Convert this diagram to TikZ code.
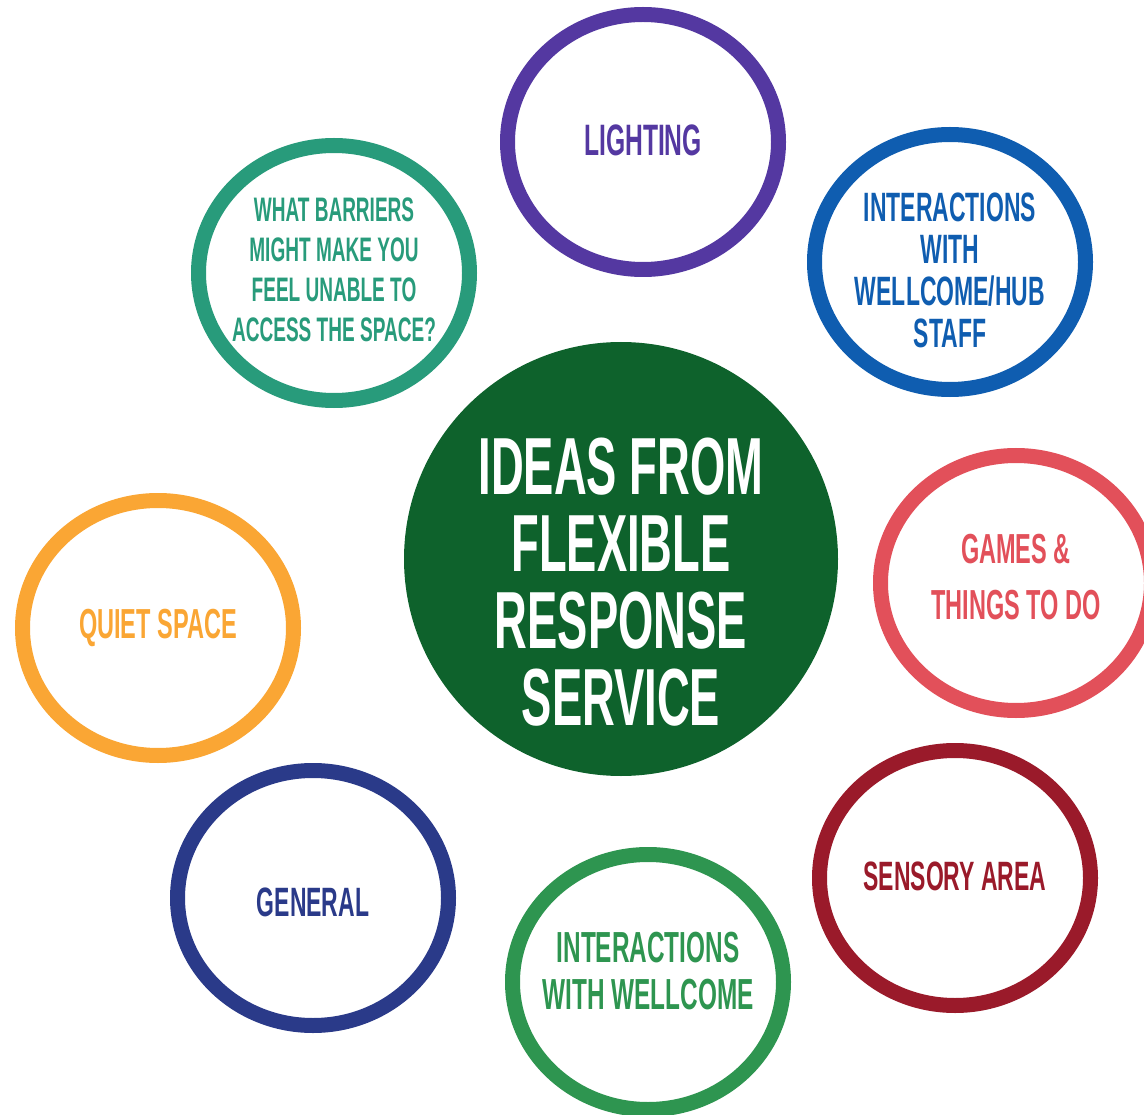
\documentclass[tikz,border=0pt]{standalone}
\usepackage{fontspec}
\setmainfont{Liberation Sans}[FakeStretch=0.56]
\usetikzlibrary{shapes.geometric}

\definecolor{hubgreen}{HTML}{0E622C}
\definecolor{lightpurple}{HTML}{5438A1}
\definecolor{staffblue}{HTML}{0F5DB0}
\definecolor{gamesred}{HTML}{E2505A}
\definecolor{sensoryred}{HTML}{9A1A2A}
\definecolor{wellgreen}{HTML}{2E9550}
\definecolor{generalnavy}{HTML}{2A3A89}
\definecolor{quietorange}{HTML}{FAA634}
\definecolor{barrierteal}{HTML}{289B7B}

\newcommand{\ringfont}[2]{\bfseries\fontsize{#1}{#2}\selectfont}

\tikzset{
  ring/.style={ellipse, draw=#1, line width=15pt,
    minimum width=271pt, minimum height=255pt, inner sep=0pt},
  ringtext/.style={text=#1, align=center, inner sep=0pt},
  hub/.style={circle, fill=hubgreen, minimum size=434pt, inner sep=0pt}
}

\begin{document}
\begin{tikzpicture}[x=1pt,y=-1pt]
        \useasboundingbox (0,0) rectangle (1144,1115);

        \node[hub, label={[ringtext=white, font=\ringfont{81}{77}, yshift=-23pt]center:IDEAS FROM\\FLEXIBLE\\RESPONSE\\SERVICE}] (0) at (621,559) {};

        \node[ring=lightpurple, label={[ringtext=lightpurple, font=\ringfont{44}{44}, yshift=2pt]center:LIGHTING}] (1) at (643,142) {};
        \node[ring=staffblue, label={[ringtext=staffblue, font=\ringfont{41}{42}, yshift=-8pt]center:INTERACTIONS\\WITH\\WELLCOME/HUB\\STAFF}] (2) at (950,262) {};
        \node[ring=gamesred, label={[ringtext=gamesred, font=\ringfont{42}{56}, yshift=6pt]center:GAMES \&\\THINGS TO DO}] (3) at (1016,583) {};
        \node[ring=sensoryred, label={[ringtext=sensoryred, font=\ringfont{41}{44}, yshift=2pt]center:SENSORY AREA}] (4) at (955,878) {};
        \node[ring=wellgreen, label={[ringtext=wellgreen, font=\ringfont{43.5}{47}, yshift=11pt]center:INTERACTIONS\\WITH WELLCOME}] (5) at (648,982) {};
        \node[ring=generalnavy, label={[ringtext=generalnavy, font=\ringfont{41}{44}, yshift=-4pt]center:GENERAL}] (6) at (313,898) {};
        \node[ring=quietorange, label={[ringtext=quietorange, font=\ringfont{42}{44}]center:QUIET SPACE}] (7) at (158,628) {};
        \node[ring=barrierteal, label={[ringtext=barrierteal, font=\ringfont{34}{40}, yshift=3pt]center:WHAT BARRIERS\\MIGHT MAKE YOU\\FEEL UNABLE TO\\ACCESS THE SPACE?}] (8) at (334,273) {};
      \end{tikzpicture}
\end{document}
